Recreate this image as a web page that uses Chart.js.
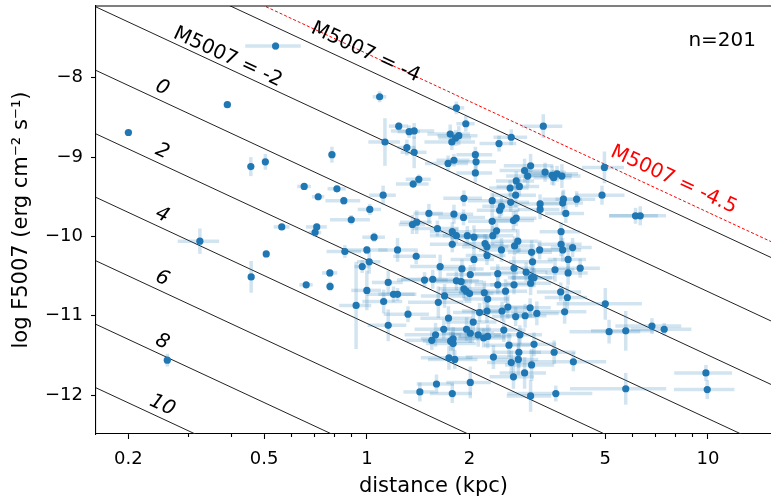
<!DOCTYPE html>
<html>
<head>
<meta charset="utf-8">
<script src="https://cdn.jsdelivr.net/npm/chart.js@4.4.1/dist/chart.umd.min.js"></script>
<style>
  body { margin: 0; background: #fff; }
  canvas { display: block; }
</style>
</head>
<body>
<canvas id="c" width="771" height="502"></canvas>
<script>
// distance (kpc) and log F5007 of each object, with errors
var dist = [
  0.54, 0.39, 0.20, 0.79, 0.457, 0.504, 1.09, 1.24, 1.13, 0.655,
  0.72, 0.817, 0.856, 1.116, 1.02, 0.90, 0.563, 0.713, 0.705, 1.05,
  0.324, 0.507, 0.458, 0.664, 0.779, 0.78, 0.862, 1.00, 0.969, 1.016,
  1.00, 0.93, 1.12, 1.155, 1.197, 1.23, 1.155, 0.26, 1.33, 1.376,
  1.31, 1.376, 1.42, 1.367, 1.52, 1.36, 1.40, 1.61, 1.83, 1.95,
  1.755, 1.86, 1.82, 1.775, 2.44, 2.65, 1.73, 1.80, 2.08, 2.09,
  2.08, 3.02, 2.90, 2.96, 2.74, 2.80, 2.63, 2.73, 2.64, 2.33,
  1.925, 2.48, 2.45, 1.80, 1.92, 2.33, 2.69, 2.74, 3.22, 1.78,
  1.83, 1.97, 2.06, 2.22, 2.34, 2.40, 2.77, 1.78, 3.29, 3.33,
  3.49, 3.61, 3.73, 3.53, 4.97, 4.89, 4.12, 3.77, 3.75, 3.22,
  3.83, 6.13, 6.33, 3.71, 3.71, 1.23, 1.395, 1.32, 1.476, 1.56,
  1.62, 1.59, 1.55, 1.60, 1.43, 1.64, 2.25, 2.48, 2.71, 3.04,
  2.25, 2.06, 1.90, 2.01, 2.42, 2.70, 2.93, 3.04, 1.83, 1.89,
  1.925, 1.955, 2.00, 2.42, 2.55, 2.21, 2.26, 1.69, 3.02, 2.14,
  2.25, 2.49, 2.59, 2.73, 2.91, 3.01, 3.15, 1.735, 2.05, 1.68,
  1.79, 1.76, 1.79, 1.96, 2.01, 2.12, 2.20, 2.26, 2.52, 2.81,
  3.09, 2.61, 2.79, 2.78, 2.65, 2.35, 3.04, 1.74, 1.81, 2.69,
  2.90, 2.01, 1.78, 3.02, 3.21, 3.75, 4.01, 3.06, 3.89, 3.56,
  3.89, 4.22, 3.09, 3.70, 3.87, 5.00, 3.80, 5.13, 5.74, 6.85,
  7.44, 3.54, 4.03, 9.86, 3.58, 5.74, 9.95, 2.70
];
var logF = [
  -7.60, -8.34, -8.69, -8.97, -9.12, -9.06, -8.24, -8.61, -8.81, -9.37,
  -9.50, -9.40, -9.55, -9.48, -9.66, -9.79, -9.88, -9.88, -9.95, -10.01,
  -10.06, -10.22, -10.51, -10.61, -10.46, -10.63, -10.19, -10.17, -10.38, -10.32,
  -10.68, -10.87, -10.82, -10.58, -10.73, -10.73, -11.12, -11.56, -8.68, -8.67,
  -8.88, -8.94, -9.28, -9.34, -9.71, -9.85, -9.82, -9.90, -8.38, -8.58,
  -8.71, -8.73, -8.76, -8.81, -8.83, -8.75, -9.08, -9.04, -8.97, -9.06,
  -9.20, -9.11, -9.17, -9.24, -9.30, -9.37, -9.39, -9.48, -9.57, -9.55,
  -9.52, -9.62, -9.67, -9.72, -9.76, -9.81, -9.80, -9.77, -9.59, -9.94,
  -9.99, -9.99, -10.01, -10.09, -9.99, -9.93, -10.06, -10.10, -8.61, -9.19,
  -9.23, -9.21, -9.24, -9.26, -9.13, -9.48, -9.53, -9.53, -9.58, -9.66,
  -9.71, -9.74, -9.74, -9.94, -10.10, -10.17, -10.25, -10.98, -10.55, -10.54,
  -10.83, -11.24, -11.31, -11.86, -11.96, -10.38, -10.13, -10.17, -10.12, -10.20,
  -10.24, -10.29, -10.41, -10.48, -10.47, -10.40, -10.45, -10.52, -10.56, -10.57,
  -10.66, -10.69, -10.72, -10.61, -10.69, -10.71, -10.79, -10.75, -10.59, -10.96,
  -10.94, -10.94, -10.89, -11.01, -11.00, -10.90, -10.97, -11.03, -11.08, -11.17,
  -11.29, -11.32, -11.35, -11.17, -11.22, -11.24, -11.28, -11.26, -11.18, -11.24,
  -11.36, -11.37, -11.46, -11.55, -11.59, -11.52, -11.62, -11.53, -11.55, -11.77,
  -11.72, -11.84, -11.98, -12.01, -10.17, -10.17, -10.14, -10.32, -10.29, -10.42,
  -10.46, -10.40, -10.52, -10.70, -10.77, -10.85, -10.95, -11.20, -11.19, -11.13,
  -11.17, -11.46, -11.58, -11.72, -11.98, -11.92, -11.93, -10.61
];
var distErr = [
  0.10, 0.01, 0.005, 0.02, 0.01, 0.01, 0.05, 0.08, 0.12, 0.03,
  0.03, 0.05, 0.10, 0.10, 0.08, 0.12, 0.03, 0.05, 0.03, 0.08,
  0.045, 0.01, 0.01, 0.03, 0.04, 0.02, 0.10, 0.15, 0.05, 0.08,
  0.10, 0.10, 0.15, 0.12, 0.20, 0.15, 0.15, 0.005, 0.10, 0.20,
  0.08, 0.12, 0.12, 0.15, 0.15, 0.12, 0.15, 0.25, 0.10, 0.12,
  0.25, 0.25, 0.20, 0.30, 0.30, 0.30, 0.25, 0.20, 0.25, 0.30,
  0.25, 0.50, 0.45, 0.40, 0.35, 0.40, 0.35, 0.40, 0.35, 0.35,
  0.25, 0.30, 0.35, 0.25, 0.30, 0.35, 0.40, 0.40, 0.45, 0.25,
  0.30, 0.30, 0.30, 0.30, 0.35, 0.35, 0.40, 0.25, 0.45, 0.50,
  0.50, 0.55, 0.50, 0.45, 0.70, 0.80, 0.55, 0.50, 0.55, 0.45,
  0.50, 1.00, 1.20, 0.50, 0.55, 0.15, 0.20, 0.20, 0.25, 0.30,
  0.30, 0.30, 0.25, 0.20, 0.15, 0.30, 0.35, 0.35, 0.40, 0.45,
  0.30, 0.30, 0.30, 0.30, 0.35, 0.40, 0.45, 0.45, 0.30, 0.30,
  0.30, 0.30, 0.35, 0.35, 0.40, 0.35, 0.35, 0.25, 0.45, 0.35,
  0.35, 0.40, 0.40, 0.40, 0.45, 0.45, 0.50, 0.30, 0.35, 0.30,
  0.35, 0.30, 0.30, 0.35, 0.35, 0.35, 0.35, 0.40, 0.40, 0.45,
  0.50, 0.40, 0.45, 0.40, 0.40, 0.40, 0.50, 0.30, 0.30, 0.40,
  0.45, 0.30, 0.25, 0.45, 0.45, 0.50, 0.55, 0.45, 0.50, 0.50,
  0.55, 0.60, 0.45, 0.55, 0.55, 1.40, 0.60, 1.20, 1.20, 1.50,
  1.50, 0.55, 1.00, 1.90, 1.00, 1.80, 2.00, 0.40
];
var logFErr = [
  0.05, 0.02, 0.02, 0.10, 0.12, 0.10, 0.07, 0.05, 0.30, 0.04,
  0.05, 0.04, 0.05, 0.12, 0.07, 0.06, 0.03, 0.04, 0.06, 0.06,
  0.16, 0.02, 0.20, 0.03, 0.05, 0.06, 0.08, 0.05, 0.08, 0.15,
  0.25, 0.55, 0.15, 0.15, 0.10, 0.08, 0.20, 0.08, 0.08, 0.10,
  0.10, 0.20, 0.06, 0.05, 0.12, 0.12, 0.15, 0.10, 0.08, 0.10,
  0.12, 0.12, 0.10, 0.10, 0.10, 0.10, 0.10, 0.08, 0.10, 0.12,
  0.12, 0.15, 0.15, 0.12, 0.12, 0.12, 0.10, 0.15, 0.12, 0.10,
  0.10, 0.12, 0.10, 0.12, 0.10, 0.15, 0.12, 0.10, 0.12, 0.12,
  0.10, 0.12, 0.15, 0.12, 0.12, 0.10, 0.15, 0.10, 0.15, 0.12,
  0.12, 0.10, 0.15, 0.10, 0.20, 0.12, 0.10, 0.12, 0.15, 0.12,
  0.12, 0.10, 0.12, 0.12, 0.15, 0.15, 0.10, 0.10, 0.10, 0.12,
  0.20, 0.15, 0.12, 0.12, 0.12, 0.15, 0.12, 0.15, 0.12, 0.15,
  0.12, 0.15, 0.12, 0.12, 0.12, 0.15, 0.12, 0.12, 0.12, 0.15,
  0.12, 0.15, 0.12, 0.12, 0.15, 0.15, 0.12, 0.15, 0.15, 0.12,
  0.15, 0.12, 0.15, 0.12, 0.15, 0.12, 0.15, 0.15, 0.15, 0.12,
  0.15, 0.12, 0.15, 0.15, 0.12, 0.15, 0.12, 0.15, 0.15, 0.12,
  0.15, 0.15, 0.20, 0.20, 0.15, 0.15, 0.20, 0.15, 0.12, 0.15,
  0.20, 0.20, 0.12, 0.20, 0.12, 0.15, 0.12, 0.15, 0.20, 0.15,
  0.15, 0.12, 0.12, 0.12, 0.15, 0.20, 0.15, 0.15, 0.25, 0.10,
  0.08, 0.15, 0.12, 0.10, 0.10, 0.20, 0.12, 0.12
];

// lines of constant absolute magnitude M5007
var magLines = [-4, -2, 0, 2, 4, 6, 8, 10];
var magBright = -4.5;

var xTicks = [0.2, 0.5, 1, 2, 5, 10];
var xMinor = [0.3, 0.4, 0.6, 0.7, 0.8, 0.9, 3, 4, 6, 7, 8, 9];
var yTicks = [-12, -11, -10, -9, -8];

// m5007 = -2.5 log F - 13.74, M = m - 5 log d(kpc) - 10
function fluxAt(M, d) {
  return -(M + 5 * Math.log10(d) + 23.74) / 2.5;
}

// where the line labels sit (distance along the line, offset above it in px)
var lineLabels = [
  { m: -2, text: 'M5007 = -2', d: 0.38, off: 10 },
  { m: -4, text: 'M5007 = -4', d: 0.95, off: 15 },
  { m: -4.5, text: 'M5007 = -4.5', d: 7.6, off: 15, color: 'red' },
  { m: 0, text: '0', d: 0.243, off: 12, italic: true },
  { m: 2, text: '2', d: 0.243, off: 12, italic: true },
  { m: 4, text: '4', d: 0.243, off: 12, italic: true },
  { m: 6, text: '6', d: 0.243, off: 12, italic: true },
  { m: 8, text: '8', d: 0.243, off: 12, italic: true },
  { m: 10, text: '10', d: 0.243, off: 12, italic: true }
];

var FONT = 'DejaVu Sans';
Chart.defaults.font.family = FONT;
Chart.defaults.color = '#000';

var points = dist.map(function (d, i) { return { x: d, y: logF[i] }; });

var datasets = [{
  type: 'scatter',
  data: points,
  backgroundColor: '#1f77b4',
  borderWidth: 0,
  pointRadius: 3.6,
  order: 0
}];

magLines.forEach(function (m) {
  datasets.push({
    type: 'line',
    data: [{ x: 0.1, y: fluxAt(m, 0.1) }, { x: 20, y: fluxAt(m, 20) }],
    borderColor: '#222',
    borderWidth: 1,
    pointRadius: 0,
    fill: false,
    order: 1
  });
});
datasets.push({
  type: 'line',
  data: [{ x: 0.1, y: fluxAt(magBright, 0.1) }, { x: 20, y: fluxAt(magBright, 20) }],
  borderColor: 'red',
  borderWidth: 1,
  borderDash: [3, 2],
  pointRadius: 0,
  fill: false,
  order: 1
});

function noPad(s) {
  s.paddingTop = 0; s.paddingBottom = 0; s.paddingLeft = 0; s.paddingRight = 0;
}

var extras = {
  id: 'extras',
  beforeDatasetDraw: function (chart, args) {
    if (args.index !== 0) return;
    var ctx = chart.ctx, a = chart.chartArea;
    var xs = chart.scales.x, ys = chart.scales.y;
    ctx.save();
    ctx.beginPath();
    ctx.rect(a.left, a.top, a.right - a.left, a.bottom - a.top);
    ctx.clip();
    ctx.strokeStyle = 'rgba(31,119,180,0.2)';
    ctx.lineWidth = 3.5;
    for (var i = 0; i < dist.length; i++) {
      var px = xs.getPixelForValue(dist[i]);
      var py = ys.getPixelForValue(logF[i]);
      var lo = Math.max(dist[i] - distErr[i], 0.01);
      ctx.beginPath();
      ctx.moveTo(xs.getPixelForValue(lo), py);
      ctx.lineTo(xs.getPixelForValue(dist[i] + distErr[i]), py);
      ctx.stroke();
      ctx.beginPath();
      ctx.moveTo(px, ys.getPixelForValue(logF[i] - logFErr[i]));
      ctx.lineTo(px, ys.getPixelForValue(logF[i] + logFErr[i]));
      ctx.stroke();
    }
    ctx.restore();
  },
  afterDraw: function (chart) {
    var ctx = chart.ctx, a = chart.chartArea;
    var xs = chart.scales.x, ys = chart.scales.y;
    ctx.save();
    // top spine
    ctx.strokeStyle = '#000';
    ctx.lineWidth = 1.1;
    ctx.beginPath();
    ctx.moveTo(a.left, a.top);
    ctx.lineTo(a.right, a.top);
    ctx.stroke();
    // minor ticks on the log axis
    xMinor.forEach(function (v) {
      var px = Math.round(xs.getPixelForValue(v)) + 0.5;
      ctx.beginPath();
      ctx.moveTo(px, a.bottom);
      ctx.lineTo(px, a.bottom + 3);
      ctx.stroke();
    });
    // line labels
    lineLabels.forEach(function (lb) {
      var x1 = xs.getPixelForValue(lb.d), y1 = ys.getPixelForValue(fluxAt(lb.m, lb.d));
      var x2 = xs.getPixelForValue(lb.d * 2), y2 = ys.getPixelForValue(fluxAt(lb.m, lb.d * 2));
      var ang = Math.atan2(y2 - y1, x2 - x1);
      var cx = x1 + lb.off * Math.sin(ang), cy = y1 - lb.off * Math.cos(ang);
      ctx.save();
      ctx.translate(cx, cy);
      ctx.rotate(ang);
      ctx.fillStyle = lb.color || '#000';
      ctx.font = (lb.italic ? 'italic ' : '') + '20px "' + FONT + '"';
      ctx.textAlign = 'center';
      ctx.textBaseline = 'middle';
      ctx.fillText(lb.text, 0, 0);
      ctx.restore();
    });
    // sample size
    ctx.fillStyle = '#000';
    ctx.font = '20px "' + FONT + '"';
    ctx.textAlign = 'right';
    ctx.textBaseline = 'alphabetic';
    ctx.fillText('n=201', 756, 45.5);
    ctx.restore();
  }
};

new Chart(document.getElementById('c'), {
  type: 'scatter',
  data: { datasets: datasets },
  plugins: [extras],
  options: {
    responsive: false,
    animation: false,
    devicePixelRatio: 1,
    // the plot runs to the right edge of the canvas, without a right spine
    layout: { autoPadding: false, padding: { top: 6, right: 0, bottom: 0, left: 0 } },
    plugins: { legend: { display: false }, tooltip: { enabled: false } },
    scales: {
      x: {
        type: 'logarithmic',
        min: 0.1607,
        max: 15.3,
        afterBuildTicks: function (s) { s.ticks = xTicks.map(function (v) { return { value: v }; }); },
        afterFit: function (s) { s.height = 68; noPad(s); },
        ticks: {
          callback: function (v) { return String(v); },
          font: { size: 18 },
          color: '#000',
          padding: 10,
          maxRotation: 0,
          autoSkip: false
        },
        grid: { drawOnChartArea: false, tickLength: 5, tickColor: '#000', tickWidth: 1.1 },
        border: { color: '#000', width: 1.1 },
        title: { display: true, text: 'distance (kpc)', color: '#000', font: { size: 21 }, padding: { top: 0, bottom: 3 } }
      },
      y: {
        min: -12.49,
        max: -7.096,
        afterBuildTicks: function (s) { s.ticks = yTicks.map(function (v) { return { value: v }; }); },
        afterFit: function (s) { s.width = 96; noPad(s); },
        ticks: {
          callback: function (v) { return '\u2212' + Math.abs(v); },
          font: { size: 18 },
          color: '#000',
          padding: 8
        },
        grid: { drawOnChartArea: false, tickLength: 5, tickColor: '#000', tickWidth: 1.1 },
        border: { color: '#000', width: 1.1 },
        title: { display: true, text: 'log F5007 (erg cm\u207B\u00B2 s\u207B\u00B9)', color: '#000', font: { size: 21 }, padding: { top: 9, bottom: 0 } }
      }
    }
  }
});
</script>
</body>
</html>
